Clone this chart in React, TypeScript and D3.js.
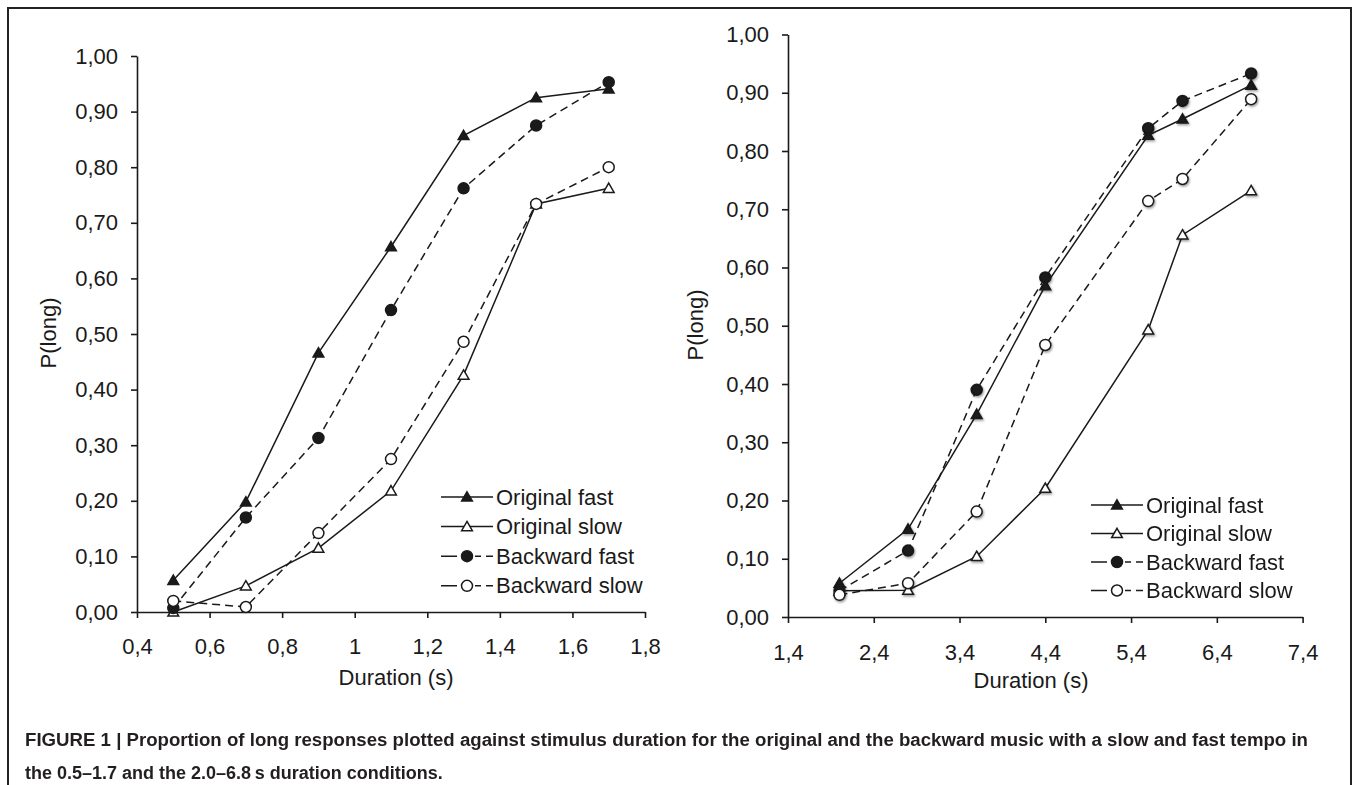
import React, { useEffect, useRef } from 'react';
import * as d3 from 'd3';

// values
const seriesNames = ['Original fast', 'Original slow', 'Backward fast', 'Backward slow'];

const leftDurations = [0.5, 0.7, 0.9, 1.1, 1.3, 1.5, 1.7];
const leftOriginalFast = [0.057, 0.198, 0.466, 0.657, 0.857, 0.925, 0.941];
const leftOriginalSlow = [0.0, 0.047, 0.115, 0.218, 0.426, 0.734, 0.762];
const leftBackwardFast = [0.007, 0.17, 0.313, 0.543, 0.762, 0.875, 0.953];
const leftBackwardSlow = [0.02, 0.009, 0.142, 0.275, 0.486, 0.734, 0.8];

const rightDurations = [2.0, 2.8, 3.6, 4.4, 5.6, 6.0, 6.8];
const rightOriginalFast = [0.058, 0.151, 0.348, 0.569, 0.827, 0.855, 0.913];
const rightOriginalSlow = [0.045, 0.046, 0.104, 0.221, 0.493, 0.656, 0.732];
const rightBackwardFast = [0.045, 0.114, 0.39, 0.583, 0.839, 0.886, 0.933];
const rightBackwardSlow = [0.038, 0.058, 0.181, 0.467, 0.714, 0.752, 0.889];

const leftXTicks = [0.4, 0.6, 0.8, 1.0, 1.2, 1.4, 1.6, 1.8];
const rightXTicks = [1.4, 2.4, 3.4, 4.4, 5.4, 6.4, 7.4];
const yTicks = [0, 0.1, 0.2, 0.3, 0.4, 0.5, 0.6, 0.7, 0.8, 0.9, 1.0];

const yLabel = 'P(long)';
const xLabel = 'Duration (s)';
const captionBold = 'FIGURE 1 | Proportion of long responses plotted against stimulus duration for the original and the backward music with a slow and fast tempo in';
const captionLine2 = 'the 0.5–1.7 and the 2.0–6.8\u2009s duration conditions.';

const FONT = '"Liberation Sans", Arial, Helvetica, sans-serif';
const INK = '#1a1a1a';

// styling per series, in the same order as seriesNames
const styles = [
  { dashed: false, shape: 'triangle', filled: true },
  { dashed: false, shape: 'triangle', filled: false },
  { dashed: true, shape: 'circle', filled: true },
  { dashed: true, shape: 'circle', filled: false },
];

const fmtY = (v) => d3.format('.2f')(v).replace('.', ',');
const fmtX = (v) => (Number.isInteger(v) ? String(v) : String(+v.toFixed(1)).replace('.', ','));

function drawMarker(g, shape, filled, x, y) {
  if (shape === 'triangle') {
    g.append('path')
      .attr('d', d3.symbol(d3.symbolTriangle, 50)())
      .attr('transform', `translate(${x},${y + 1})`)
      .attr('fill', filled ? INK : '#fff')
      .attr('stroke', INK)
      .attr('stroke-width', 1.5);
  } else {
    g.append('circle')
      .attr('cx', x)
      .attr('cy', y)
      .attr('r', 5.5)
      .attr('fill', filled ? INK : '#fff')
      .attr('stroke', INK)
      .attr('stroke-width', 1.5);
  }
}

function drawPanel(svg, cfg) {
  const x = d3.scaleLinear().domain(cfg.xDomain).range(cfg.xRange);
  const y = d3.scaleLinear().domain([0, 1]).range(cfg.yRange);
  const g = svg.append('g');

  // axes
  const yAxis = g.append('g').attr('transform', `translate(${cfg.xRange[0]},0)`)
    .call(d3.axisLeft(y).tickValues(yTicks).tickSize(6).tickSizeOuter(0).tickPadding(13).tickFormat(fmtY));
  const xAxis = g.append('g').attr('transform', `translate(0,${cfg.yRange[0]})`)
    .call(d3.axisBottom(x).tickValues(cfg.xTicks).tickSize(6).tickSizeOuter(0).tickPadding(cfg.xPad).tickFormat(fmtX));
  [yAxis, xAxis].forEach((a) => {
    a.select('.domain').attr('stroke', INK).attr('stroke-width', 1.6);
    a.selectAll('.tick line').attr('stroke', INK).attr('stroke-width', 1.6);
    a.selectAll('.tick text').attr('fill', INK).style('font-family', FONT).style('font-size', '22px');
  });

  g.append('text')
    .attr('transform', `translate(${cfg.yLabelPos[0]},${cfg.yLabelPos[1]}) rotate(-90)`)
    .attr('text-anchor', 'middle')
    .attr('dominant-baseline', 'central')
    .style('font-family', FONT).style('font-size', '22px').attr('fill', INK)
    .text(yLabel);
  g.append('text')
    .attr('x', cfg.xLabelPos[0]).attr('y', cfg.xLabelPos[1])
    .attr('text-anchor', 'middle')
    .attr('dominant-baseline', 'central')
    .style('font-family', FONT).style('font-size', '22px').attr('fill', INK)
    .text(xLabel);

  const line = d3.line().x((d) => x(d[0])).y((d) => y(d[1]));
  cfg.series.forEach((vals, i) => {
    const pts = cfg.durations.map((dur, j) => [dur, vals[j]]);
    g.append('path')
      .attr('d', line(pts))
      .attr('fill', 'none')
      .attr('stroke', INK)
      .attr('stroke-width', 1.5)
      .attr('stroke-dasharray', styles[i].dashed ? '8,5' : null);
  });

  const mg = g.append('g').attr('filter', cfg.shadow ? 'url(#mshadow)' : null);
  cfg.series.forEach((vals, i) => {
    cfg.durations.forEach((dur, j) => {
      drawMarker(mg, styles[i].shape, styles[i].filled, x(dur), y(vals[j]));
    });
  });

  // legend
  const lg = g.append('g');
  seriesNames.forEach((name, i) => {
    const ly = cfg.legend.y + i * cfg.legend.step;
    lg.append('line')
      .attr('x1', cfg.legend.x).attr('x2', cfg.legend.x + 52)
      .attr('y1', ly).attr('y2', ly)
      .attr('stroke', INK).attr('stroke-width', 1.5)
      .attr('stroke-dasharray', styles[i].dashed ? '16,18,6,5,7' : null);
    drawMarker(lg, styles[i].shape, styles[i].filled, cfg.legend.x + 26, ly);
    lg.append('text')
      .attr('x', cfg.legend.x + 55).attr('y', ly)
      .attr('dominant-baseline', 'central')
      .style('font-family', FONT).style('font-size', '22px').attr('fill', INK)
      .text(name);
  });
}

const App = () => {
  const svgRef = useRef(null);

  useEffect(() => {
    const svg = d3.select(svgRef.current);
    svg.selectAll('*').remove(); // Clear previous content

    const defs = svg.append('defs');
    defs.append('filter').attr('id', 'mshadow')
      .attr('x', '-50%').attr('y', '-50%').attr('width', '200%').attr('height', '200%')
      .append('feDropShadow')
      .attr('dx', 1).attr('dy', 1.5).attr('stdDeviation', 1.3)
      .attr('flood-color', '#000').attr('flood-opacity', 0.4);

    svg.append('rect').attr('width', 1355).attr('height', 785).attr('fill', '#fff');
    // figure frame (open at the bottom)
    svg.append('path')
      .attr('d', 'M8,790 L8,8 L1351,8 L1351,790')
      .attr('fill', 'none').attr('stroke', '#222').attr('stroke-width', 2);

    drawPanel(svg, {
      durations: leftDurations,
      series: [leftOriginalFast, leftOriginalSlow, leftBackwardFast, leftBackwardSlow],
      xDomain: [0.4, 1.8], xRange: [137, 645], yRange: [612, 56],
      xTicks: leftXTicks, xPad: 20,
      yLabelPos: [48, 333], xLabelPos: [396, 677],
      legend: { x: 441, y: 497, step: 29.6 },
      shadow: false,
    });
    drawPanel(svg, {
      durations: rightDurations,
      series: [rightOriginalFast, rightOriginalSlow, rightBackwardFast, rightBackwardSlow],
      xDomain: [1.4, 7.4], xRange: [788, 1302.6], yRange: [617, 34.5],
      xTicks: rightXTicks, xPad: 21,
      yLabelPos: [695, 325], xLabelPos: [1031, 680],
      legend: { x: 1091, y: 505, step: 28.5 },
      shadow: true,
    });

    svg.append('text')
      .attr('x', 25).attr('y', 746)
      .attr('textLength', 1283).attr('lengthAdjust', 'spacingAndGlyphs')
      .style('font-family', FONT).style('font-size', '18px').style('font-weight', 'bold')
      .attr('fill', '#231f20')
      .text(captionBold);
    svg.append('text')
      .attr('x', 25).attr('y', 779)
      .style('font-family', FONT).style('font-size', '18px').style('font-weight', 'bold')
      .attr('fill', '#231f20')
      .text(captionLine2);
  }, []);

  return (
    <div style={{ position: 'absolute', left: 0, top: 0, width: 1355, height: 785 }}>
      <svg ref={svgRef} width={1355} height={785} style={{ display: 'block' }}></svg>
    </div>
  );
};

export default App;
